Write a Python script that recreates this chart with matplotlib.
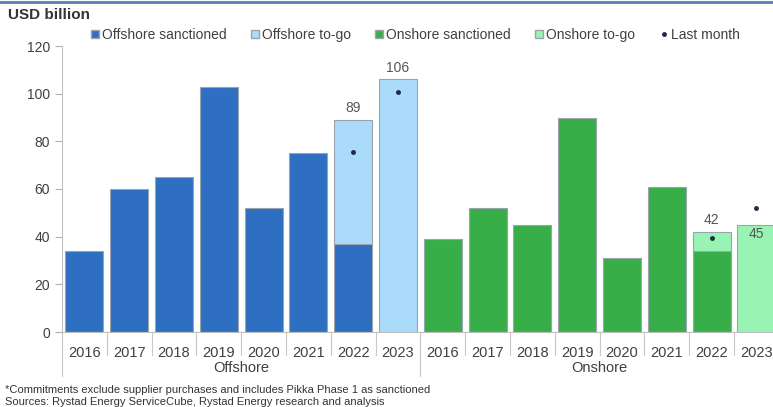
import numpy as np
import matplotlib.pyplot as plt
from matplotlib.lines import Line2D

plt.rcParams['font.family'] = ['Liberation Sans', 'DejaVu Sans']

years = ['2016', '2017', '2018', '2019', '2020', '2021', '2022', '2023']
groups = ['Offshore', 'Onshore']

offshore_sanctioned = [34, 60, 65, 103, 52, 75, 37, 0]
offshore_togo = [0, 0, 0, 0, 0, 0, 52, 106]
onshore_sanctioned = [39, 52, 45, 90, 31, 61, 34, 0]
onshore_togo = [0, 0, 0, 0, 0, 0, 8, 45]

# last month estimates for 2022 and 2023
last_month_off = [75.5, 100.5]
last_month_on = [39.5, 52]

totals_off = [89, 106]
totals_on = [42, 45]

c_off = '#2F6FC1'
c_off_togo = '#ABDBFB'
c_on = '#38AE48'
c_on_togo = '#99F4B3'
edge = '#9AA4AE'
txt = '#404040'

fig = plt.figure(figsize=(7.73, 4.07), dpi=100)
W, H = 773, 407
ax = fig.add_axes([62 / W, (H - 332) / H, 16 * 44.8 / W, (332 - 46) / H])

n = len(years)
x_off = np.arange(n)
x_on = np.arange(n) + n
bw = 0.85

ax.bar(x_off, offshore_sanctioned, bw, color=c_off, edgecolor=edge, linewidth=0.8)
ax.bar(x_off, offshore_togo, bw, bottom=offshore_sanctioned, color=c_off_togo,
       edgecolor=edge, linewidth=0.8)
ax.bar(x_on, onshore_sanctioned, bw, color=c_on, edgecolor=edge, linewidth=0.8)
ax.bar(x_on, onshore_togo, bw, bottom=onshore_sanctioned, color=c_on_togo,
       edgecolor=edge, linewidth=0.8)

# hide zero-height bars' edges
for p in ax.patches:
    if p.get_height() == 0:
        p.set_visible(False)

ax.plot(x_off[-2:], last_month_off, 'o', color='#1E2B45', markersize=2.5)
ax.plot(x_on[-2:], last_month_on, 'o', color='#1E2B45', markersize=2.5)

ax.text(x_off[6], totals_off[0] + 2, str(totals_off[0]), ha='center', va='bottom',
        fontsize=10, color='#555555')
ax.text(x_off[7], totals_off[1] + 2, str(totals_off[1]), ha='center', va='bottom',
        fontsize=10, color='#555555')
ax.text(x_on[6], totals_on[0] + 2, str(totals_on[0]), ha='center', va='bottom',
        fontsize=10, color='#555555')
ax.text(x_on[7], totals_on[1] - 1, str(totals_on[1]), ha='center', va='top',
        fontsize=10, color='#555555')

ax.set_xlim(-0.5, 2 * n - 0.5)
ax.set_ylim(0, 120)
ax.set_yticks(range(0, 121, 20))
ax.tick_params(axis='y', colors='#B0B0B0', labelcolor=txt, labelsize=10, length=5, width=0.8)
ax.set_xticks([])
for s in ['top', 'right']:
    ax.spines[s].set_visible(False)
ax.spines['left'].set_color('#C0C0C0')
ax.spines['bottom'].set_color('#C0C0C0')

# category labels and separators below the axis
trans = ax.get_xaxis_transform()
for i, yr in enumerate(years * 2):
    ax.text(i, -0.05, yr, transform=trans, ha='center', va='top', fontsize=10.5, color=txt)
for k in range(2 * n + 1):
    if k in (0, n):
        y_end = -0.155
    elif k == 2 * n:
        continue
    else:
        y_end = -0.08
    ax.plot([k - 0.5, k - 0.5], [0, y_end], transform=trans, color='#C8C8C8',
            linewidth=0.8, clip_on=False)
ax.text((n - 1) / 2, -0.102, groups[0], transform=trans, ha='center', va='top',
        fontsize=10.5, color=txt)
ax.text(n + (n - 1) / 2, -0.102, groups[1], transform=trans, ha='center', va='top',
        fontsize=10.5, color=txt)

handles = [
    Line2D([], [], marker='s', linestyle='', markersize=6, markerfacecolor=c_off, markeredgecolor=edge),
    Line2D([], [], marker='s', linestyle='', markersize=6, markerfacecolor=c_off_togo, markeredgecolor=edge),
    Line2D([], [], marker='s', linestyle='', markersize=6, markerfacecolor=c_on, markeredgecolor=edge),
    Line2D([], [], marker='s', linestyle='', markersize=6, markerfacecolor=c_on_togo, markeredgecolor=edge),
    Line2D([], [], marker='o', linestyle='', markersize=2.5, color='#1E2B45'),
]
labels = ['Offshore sanctioned', 'Offshore to-go', 'Onshore sanctioned', 'Onshore to-go', 'Last month']
fig.legend(handles, labels, loc='center left', bbox_to_anchor=(78 / W, 1 - 35 / H),
           ncol=5, frameon=False, fontsize=10, handlelength=0.6, handletextpad=0.2,
           columnspacing=1.75, labelcolor=txt)

fig.text(8 / W, 1 - 15 / H, 'USD billion', fontsize=11, color='#333333',
         ha='left', va='center', fontweight='bold')
fig.text(5 / W, 1 - 390 / H, '*Commitments exclude supplier purchases and includes Pikka Phase 1 as sanctioned',
         fontsize=8, color='#333333', ha='left', va='center')
fig.text(5 / W, 1 - 402 / H, 'Sources: Rystad Energy ServiceCube, Rystad Energy research and analysis',
         fontsize=8, color='#333333', ha='left', va='center')

fig.add_artist(Line2D([0, 1], [1 - 2 / H, 1 - 2 / H], transform=fig.transFigure,
                      color='#5B7FB0', linewidth=2))

fig.savefig('out.png', dpi=100)
